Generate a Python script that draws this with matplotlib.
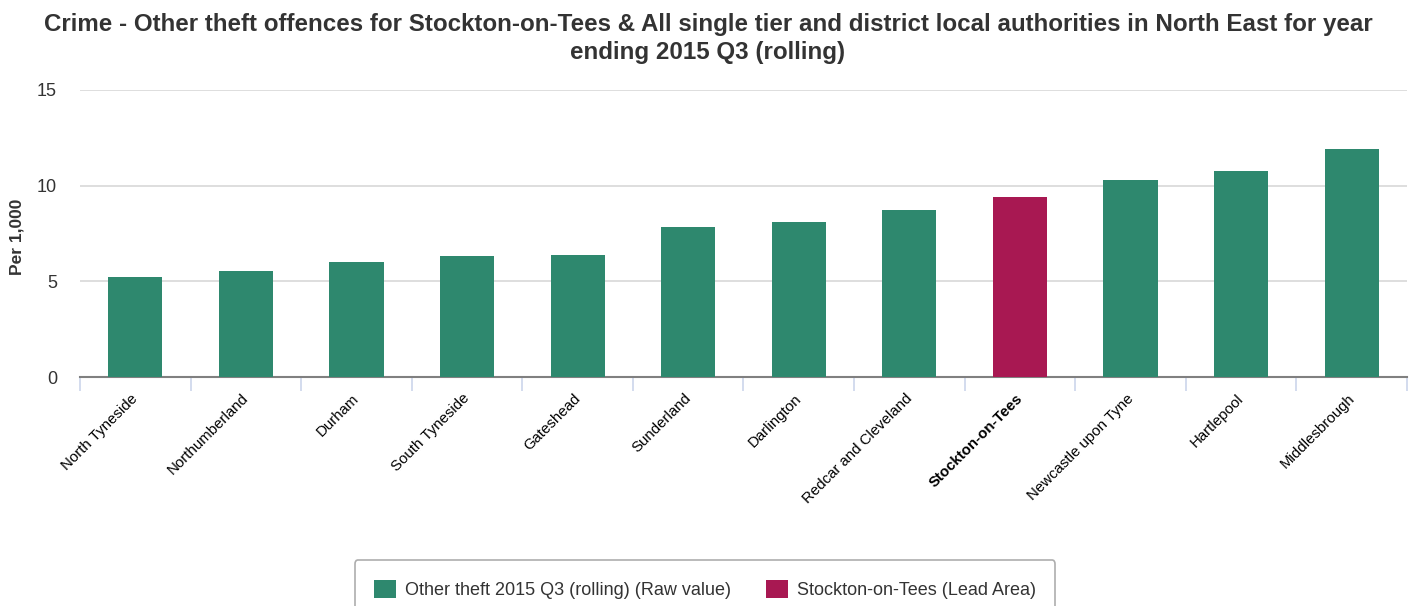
import matplotlib
matplotlib.use("Agg")
import matplotlib.pyplot as plt
from matplotlib.patches import Patch

categories = ["North Tyneside", "Northumberland", "Durham", "South Tyneside", "Gateshead",
              "Sunderland", "Darlington", "Redcar and Cleveland", "Stockton-on-Tees",
              "Newcastle upon Tyne", "Hartlepool", "Middlesbrough"]
values = [5.23, 5.54, 6.01, 6.33, 6.38, 7.84, 8.10, 8.73, 9.41, 10.30, 10.77, 11.92]
lead_area = "Stockton-on-Tees"
yticks = [0, 5, 10, 15]
title = ("Crime - Other theft offences for Stockton-on-Tees & All single tier and district local "
         "authorities in North East for year\nending 2015 Q3 (rolling)")
legend_labels = ["Other theft 2015 Q3 (rolling) (Raw value)", "Stockton-on-Tees (Lead Area)"]

GREEN = "#2E886E"
MAGENTA = "#A81852"

plt.rcParams['font.family'] = ['Liberation Sans', 'DejaVu Sans']

W, H = 1418, 606
fig = plt.figure(figsize=(W / 100, H / 100), dpi=100)
ax = fig.add_axes([80 / W, 1 - 377 / H, (1407 - 80) / W, (377 - 90) / H])

x = list(range(len(categories)))
colors = [MAGENTA if c == lead_area else GREEN for c in categories]
ax.bar(x, values, width=0.49, color=colors, zorder=3)

ax.set_xlim(-0.5, len(categories) - 0.5)
ax.set_ylim(0, 15)
ax.set_yticks(yticks)
ax.set_yticklabels([str(t) for t in yticks], fontsize=13, color="#333333")
ax.tick_params(axis='y', length=0, pad=16.5)
ax.yaxis.grid(True, color="#d8d8d8", linewidth=1.2, zorder=0)
ax.set_axisbelow(True)

ax.set_xticks([i - 0.5 for i in range(len(categories) + 1)], minor=False)
ax.set_xticklabels([])
ax.tick_params(axis='x', length=10, color="#ccd6eb", width=1.2, direction='out')
for i, c in enumerate(categories):
    ax.text(i - 0.04, -0.75, c, rotation=45, ha='right', va='top', rotation_mode='anchor',
            fontsize=10.8, color="#000000",
            fontweight='bold' if c == lead_area else 'normal',
            transform=ax.transData, clip_on=False)

for s in ['top', 'right', 'left']:
    ax.spines[s].set_visible(False)
ax.spines['bottom'].set_color("#808080")
ax.spines['bottom'].set_linewidth(1.5)

ax.set_ylabel("Per 1,000", fontsize=12.5, fontweight='bold', color="#333333")
ax.yaxis.set_label_coords((25 - 80) / (1407 - 80), 0.49)

fig.text(708 / W, 1 - 13 / H, title, ha='center', va='top', fontsize=17.4, fontweight='bold',
         color="#333333", linespacing=1.25)

handles = [Patch(facecolor=GREEN), Patch(facecolor=MAGENTA)]
leg = fig.legend(handles, legend_labels, loc='upper center', bbox_to_anchor=(705 / W, 1 - 560 / H),
                 ncol=2, fontsize=13, frameon=True, fancybox=True, edgecolor="#999999",
                 handlelength=1.2, handleheight=1.2, columnspacing=1.95, handletextpad=0.5,
                 borderpad=1.08, borderaxespad=0)
leg.get_frame().set_linewidth(1.2)
for t in leg.get_texts():
    t.set_color("#333333")

fig.savefig("out.png", dpi=100)
